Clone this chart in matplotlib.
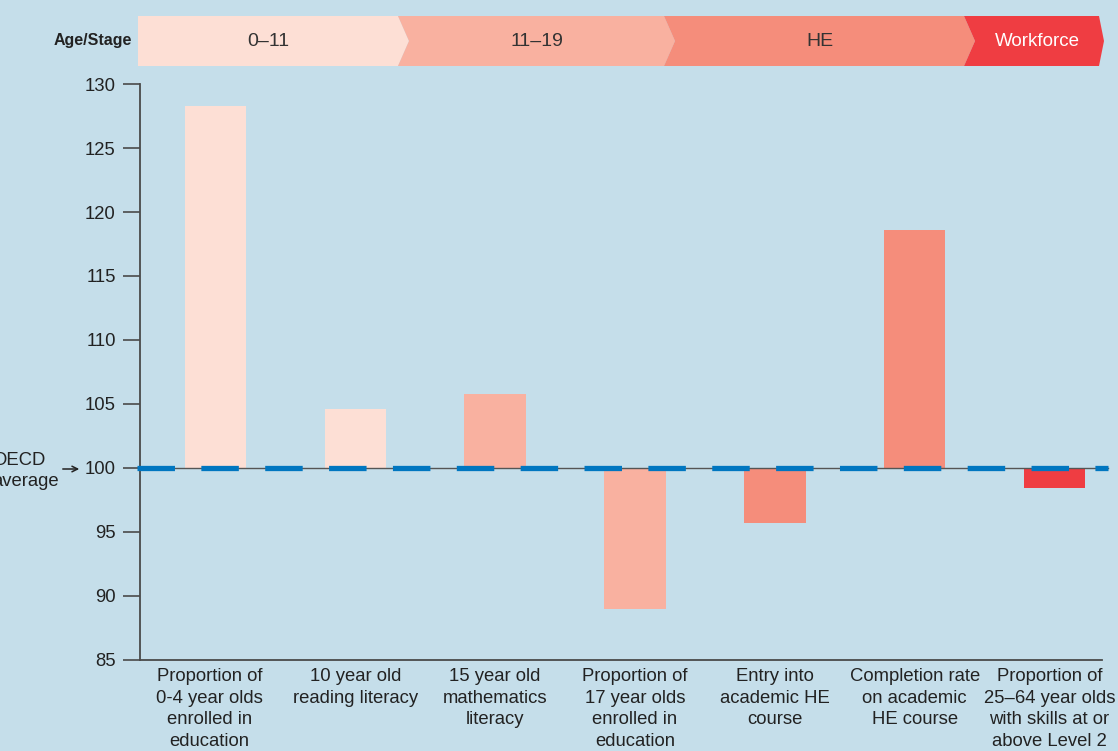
import matplotlib.pyplot as plt
from matplotlib.patches import Polygon
from matplotlib.transforms import ScaledTranslation

plt.rcParams['font.family'] = ['Liberation Sans', 'DejaVu Sans']

# data
labels = ["Proportion of\n0-4 year olds\nenrolled in\neducation",
          "10 year old\nreading literacy",
          "15 year old\nmathematics\nliteracy",
          "Proportion of\n17 year olds\nenrolled in\neducation",
          "Entry into\nacademic HE\ncourse",
          "Completion rate\non academic\nHE course",
          "Proportion of\n25\u201364 year olds\nwith skills at or\nabove Level 2"]
values = [128.3, 104.6, 105.8, 89.0, 95.7, 118.6, 98.4]
bar_colors = ["#FDDFD5", "#FDDFD5", "#F9B1A0", "#F9B1A0", "#F58D7B", "#F58D7B", "#EF3D42"]
oecd_avg = 100

stages = ["0\u201311", "11\u201319", "HE", "Workforce"]
stage_colors = ["#FDDFD5", "#F9B1A0", "#F58D7B", "#EF3D42"]
stage_text = ["#333333", "#333333", "#333333", "white"]
stage_edges = [138, 398, 664, 964, 1099]  # banner boundaries in pixels

bg = "#C5DEEA"
W, H = 1118, 751
fig = plt.figure(figsize=(W / 100, H / 100), dpi=100, facecolor=bg)

# main axes
ax = fig.add_axes([140 / W, 91 / H, (1102 - 140) / W, (660 - 84) / H])
ax.set_facecolor(bg)
x = list(range(len(values)))
ax.bar(x, [v - oecd_avg for v in values], bottom=oecd_avg, width=0.44,
       color=bar_colors, zorder=2)
ax.set_xlim(-0.54, 6.34)
ax.set_ylim(85, 130)
ax.set_yticks(range(85, 131, 5))
ax.set_xticks(x)
ax.set_xticklabels(labels, fontsize=13.3, color="#222222", linespacing=1.35)
ax.tick_params(axis='x', length=0, pad=6)
ax.tick_params(axis='y', length=12.5, width=1.2, color="#4a4a4a",
               labelsize=13.3, labelcolor="#222222", pad=5)
# nudge the outer labels a little, as in the original layout
ticklabels = ax.get_xticklabels()
ticklabels[0].set_transform(ticklabels[0].get_transform() +
                            ScaledTranslation(-0.06, 0, fig.dpi_scale_trans))
ticklabels[-1].set_transform(ticklabels[-1].get_transform() +
                             ScaledTranslation(-0.05, 0, fig.dpi_scale_trans))
for s in ["top", "right"]:
    ax.spines[s].set_visible(False)
for s in ["left", "bottom"]:
    ax.spines[s].set_color("#4a4a4a")
    ax.spines[s].set_linewidth(1.3)

ax.axhline(oecd_avg, xmin=0, xmax=1.006, color="#555555", lw=1.0,
           zorder=3, clip_on=False)
ax.axhline(oecd_avg, xmin=-0.003, xmax=1.006, color="#0076C0", lw=3.8,
           dashes=(7.1, 5.0), zorder=4, clip_on=False)

# OECD average label (cut off at the left edge, as in the original)
fig.text(-8 / W, 1 - 471 / H, "OECD\naverage", ha='left', va='center',
         fontsize=13.3, color="#222222", linespacing=1.35)
ax.annotate("", xy=(82, H - 469), xycoords='figure pixels',
            xytext=(60, H - 469), textcoords='figure pixels',
            arrowprops=dict(arrowstyle='->', color="#222222", lw=1.1))

# stage banner
bax = fig.add_axes([0, 0, 1, 1])
bax.set_xlim(0, W)
bax.set_ylim(H, 0)
bax.axis('off')
top, bot = 16, 66
mid = (top + bot) / 2
tip = 11
for i, name in enumerate(stages):
    x0, x1 = stage_edges[i], stage_edges[i + 1]
    t = tip if i < len(stages) - 1 else 5
    pts = [(x0, top), (x1, top), (x1 + t, mid), (x1, bot), (x0, bot)]
    if i > 0:
        pts.append((x0 + tip, mid))
    bax.add_patch(Polygon(pts, closed=True, facecolor=stage_colors[i],
                          edgecolor='none'))
    cx = (x0 + x1) / 2 + (tip / 2 if i > 0 else 0)
    bax.text(cx, mid, name, ha='center', va='center',
             fontsize=13.5 if i == 3 else 14, color=stage_text[i])
bax.text(132, mid, "Age/Stage", ha='right', va='center', fontsize=11.5,
         fontweight='bold', color="#222222")

fig.savefig("out.png", dpi=100, facecolor=bg)
